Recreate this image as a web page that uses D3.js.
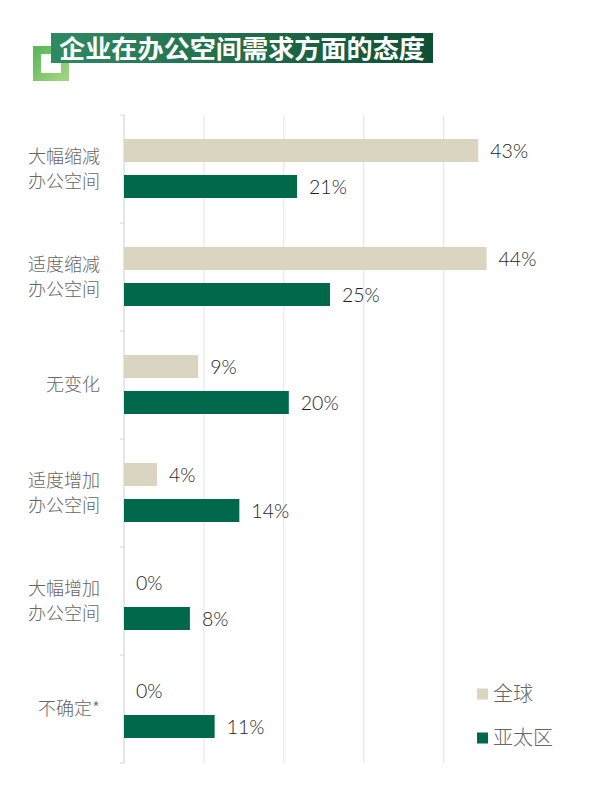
<!DOCTYPE html>
<meta charset="utf-8">
<title>企业在办公空间需求方面的态度</title>
<script src="https://d3js.org/d3.v7.min.js"></script>
<style>
    body { margin: 0; background: #fff; }
    svg text { font-family: "Noto Sans CJK SC", "Noto Sans", sans-serif; }
</style>
<body>
<script>
    // chart data
    var titleText = "企业在办公空间需求方面的态度";
    var categories = [
        ["大幅缩减", "办公空间"],
        ["适度缩减", "办公空间"],
        ["无变化"],
        ["适度增加", "办公空间"],
        ["大幅增加", "办公空间"],
        ["不确定*"]
    ];
    var seriesNames = ["全球", "亚太区"];
    var globalValues = [43, 44, 9, 4, 0, 0];
    var apacValues = [21, 25, 20, 14, 8, 11];
    var gridTicks = [0, 9.7, 19.4, 29.1, 38.8];

    var colors = { "全球": "#d9d5c1", "亚太区": "#00694c" };

    var W = 600, H = 796;
    var svg = d3.select("body").append("svg").attr("width", W).attr("height", H);

    // title block
    var defs = svg.append("defs");
    var g1 = defs.append("linearGradient").attr("id", "bannerGrad");
    g1.append("stop").attr("offset", "0%").attr("stop-color", "#2f8a62");
    g1.append("stop").attr("offset", "100%").attr("stop-color", "#0f4f34");
    var g2 = defs.append("linearGradient").attr("id", "boxGrad")
        .attr("x1", "0").attr("y1", "0").attr("x2", "1").attr("y2", "1");
    g2.append("stop").attr("offset", "0%").attr("stop-color", "#5db95a");
    g2.append("stop").attr("offset", "100%").attr("stop-color", "#9fd37f");

    svg.append("rect").attr("x", 37).attr("y", 50).attr("width", 28).attr("height", 27)
        .attr("fill", "none").attr("stroke", "url(#boxGrad)").attr("stroke-width", 8);
    svg.append("rect").attr("x", 51).attr("y", 33).attr("width", 382).attr("height", 30)
        .attr("fill", "url(#bannerGrad)");
    svg.append("text").attr("x", 59).attr("y", 58)
        .attr("fill", "#fff").attr("font-size", 25.5).attr("font-weight", 700)
        .attr("textLength", 366).attr("lengthAdjust", "spacingAndGlyphs")
        .text(titleText);

    // scales
    var x = d3.scaleLinear().domain([0, 50]).range([124, 536]);
    var y = d3.scaleBand().domain(d3.range(categories.length)).range([115, 763]);
    var yInner = d3.scaleBand().domain(seriesNames).range([24, 83])
        .paddingInner(0.36).paddingOuter(0);

    // gridlines
    svg.append("g").selectAll("line").data(gridTicks).join("line")
        .attr("x1", d => x(d)).attr("x2", d => x(d))
        .attr("y1", 115).attr("y2", 763)
        .attr("stroke", d => d === 0 ? "#d6d6d6" : "#e6e6e6").attr("stroke-width", 1.2);

    // category boundary ticks
    svg.append("g").selectAll("line").data(d3.range(categories.length + 1)).join("line")
        .attr("x1", x(0) - 4).attr("x2", x(0))
        .attr("y1", d => 115 + d * y.step()).attr("y2", d => 115 + d * y.step())
        .attr("stroke", "#d6d6d6");

    var rows = categories.map((c, i) => ({
        label: c,
        values: [
            { s: "全球", v: globalValues[i] },
            { s: "亚太区", v: apacValues[i] }
        ]
    }));

    var row = svg.append("g").selectAll("g").data(rows).join("g")
        .attr("transform", (d, i) => "translate(0," + y(i) + ")");

    // category labels
    row.append("text")
        .attr("text-anchor", "end")
        .attr("fill", "#666")
        .attr("font-size", 18)
        .attr("font-weight", 300)
        .selectAll("tspan").data(d => d.label).join("tspan")
        .attr("x", 100)
        .attr("y", (t, j, n) => y.bandwidth() / 2 + (j - (n.length - 1) / 2) * 25)
        .attr("dy", "0.35em")
        .text(t => t);

    // bars
    row.selectAll("rect").data(d => d.values).join("rect")
        .attr("x", x(0))
        .attr("y", d => yInner(d.s))
        .attr("width", d => x(d.v) - x(0))
        .attr("height", yInner.bandwidth())
        .attr("fill", d => colors[d.s]);

    // value labels
    row.selectAll("text.val").data(d => d.values).join("text")
        .attr("class", "val")
        .attr("x", d => x(d.v) + 12)
        .attr("y", d => yInner(d.s) + yInner.bandwidth() / 2)
        .attr("dy", "0.36em")
        .attr("fill", "#1e1e1e")
        .attr("font-size", 19.5)
        .attr("font-weight", 300)
        .style("font-family", "Lato, 'Noto Sans', sans-serif")
        .text(d => d.v + "%");

    // legend
    var legend = svg.append("g").selectAll("g").data(seriesNames).join("g")
        .attr("transform", (d, i) => "translate(477," + (694 + i * 44) + ")");
    legend.append("rect").attr("x", 0).attr("y", -5.5).attr("width", 11).attr("height", 11)
        .attr("fill", d => colors[d]);
    legend.append("text").attr("x", 16).attr("dy", "0.36em")
        .attr("fill", "#666").attr("font-size", 20).attr("font-weight", 300)
        .text(d => d);
</script>
</body>
